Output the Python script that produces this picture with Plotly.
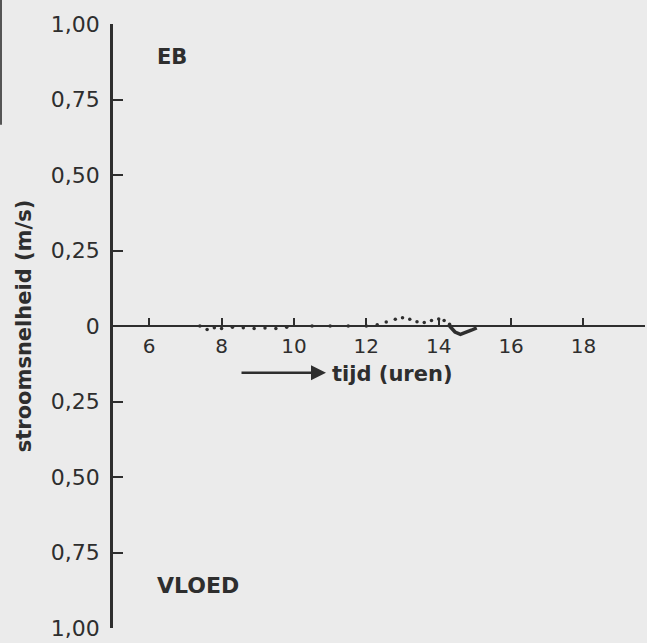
import plotly.graph_objects as go

# Data
dot_x = [7.4, 7.6, 7.8, 8.0, 8.3, 8.6, 8.9, 9.2, 9.5, 9.8, 10.5, 11.0, 11.5, 12.0,
         12.3, 12.55, 12.8, 13.0, 13.2, 13.4, 13.6, 13.8, 14.0, 14.15, 14.3]
dot_y = [0.0, -0.012, -0.006, -0.008, -0.004, -0.006, -0.008, -0.007, -0.008, -0.004,
         0.0, 0.0, 0.0, 0.0, 0.004, 0.013, 0.022, 0.027, 0.022, 0.014, 0.012, 0.018,
         0.023, 0.018, 0.006]
sol_x = [14.3, 14.45, 14.6, 14.75, 14.9, 15.05]
sol_y = [0.0, -0.02, -0.028, -0.022, -0.014, -0.006]

x_ticks = [6, 8, 10, 12, 14, 16, 18]
y_ticks = [1.0, 0.75, 0.5, 0.25, 0.0, -0.25, -0.5, -0.75, -1.0]
y_labels = ["1,00", "0,75", "0,50", "0,25", "0", "0,25", "0,50", "0,75", "1,00"]

ink = "#2e2e2e"
font = "DejaVu Sans"

fig = go.Figure()
fig.add_trace(go.Scatter(x=dot_x, y=dot_y, mode="markers",
                         marker=dict(size=3.5, color=ink), showlegend=False))
fig.add_trace(go.Scatter(x=sol_x, y=sol_y, mode="lines",
                         line=dict(color=ink, width=3.5), showlegend=False))

fig.update_layout(
    width=647, height=643,
    margin=dict(l=113, r=2, t=24, b=13),
    paper_bgcolor="#ebebeb", plot_bgcolor="#ebebeb",
    font=dict(family=font, color=ink),
    xaxis=dict(range=[5, 19.7], tickvals=x_ticks, ticktext=[str(v) for v in x_ticks],
               showgrid=False, zeroline=False, showline=True, linecolor=ink, linewidth=2,
               ticks="inside", ticklen=7, tickwidth=2, tickcolor=ink,
               anchor="free", position=0.5, ticklabelstandoff=2,
               tickfont=dict(size=20, family=font, color=ink)),
    yaxis=dict(range=[-1, 1], tickvals=y_ticks, ticktext=y_labels,
               showgrid=False, zeroline=False, showline=True, linecolor=ink, linewidth=2.5,
               ticks="inside", ticklen=10, tickwidth=2, tickcolor=ink,
               ticklabelstandoff=6,
               tickfont=dict(size=22, family=font, color=ink),
               title=dict(text="stroomsnelheid (m/s)",
                          font=dict(size=21, family=font, color=ink, weight="bold"),
                          standoff=14)),
)

fig.add_annotation(text="EB", xref="paper", yref="paper", x=(155 - 113) / 532, y=1 - (57 - 24) / 606,
                   xanchor="left", yanchor="middle", showarrow=False,
                   font=dict(size=21, color=ink, weight="bold"))
fig.add_annotation(text="VLOED", xref="paper", yref="paper", x=(155 - 113) / 532, y=1 - (587 - 24) / 606,
                   xanchor="left", yanchor="middle", showarrow=False,
                   font=dict(size=22, color=ink, weight="bold"))
fig.add_annotation(text="tijd (uren)", xref="paper", yref="paper", x=(330 - 113) / 532, y=1 - (375 - 24) / 606,
                   xanchor="left", yanchor="middle", showarrow=False,
                   font=dict(size=21, color=ink, weight="bold"))
fig.add_annotation(text="", xref="paper", yref="paper", x=(326 - 113) / 532, y=1 - (374 - 24) / 606,
                   ax=240 - 326, ay=0, showarrow=True, arrowhead=2, arrowsize=1.2, arrowwidth=2.5,
                   arrowcolor=ink)
fig.add_shape(type="line", xref="paper", yref="paper", x0=-112 / 532, x1=-112 / 532,
              y0=1 + 24 / 606, y1=1 - (125 - 24) / 606, line=dict(color="#555555", width=2))

fig.write_html("out.html")
